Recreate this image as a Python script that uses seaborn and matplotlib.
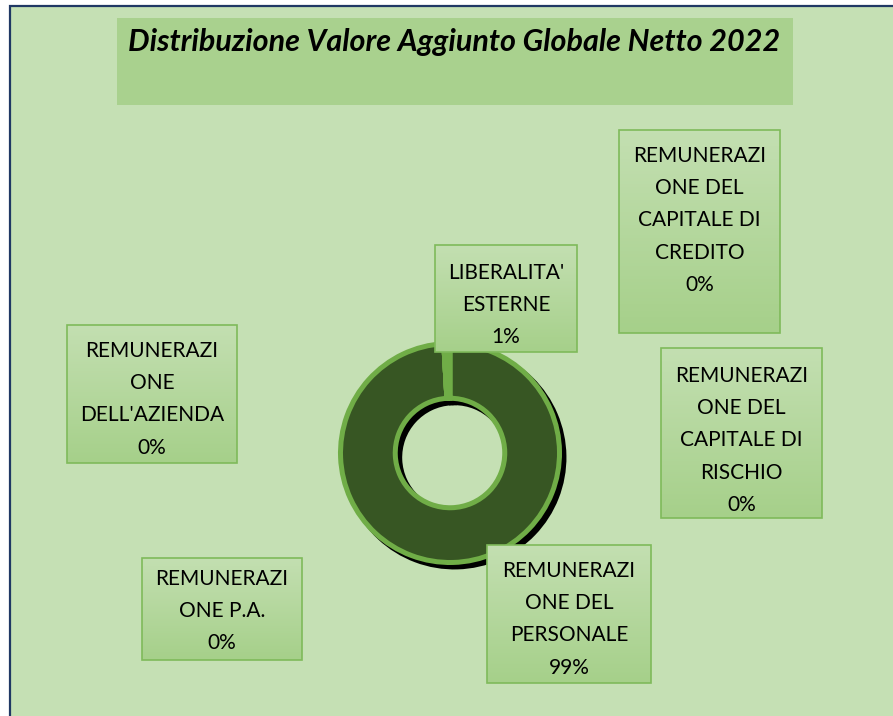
import numpy as np
import pandas as pd
import seaborn as sns
import matplotlib
matplotlib.use("Agg")
import matplotlib.pyplot as plt
from matplotlib.patches import Rectangle
from matplotlib.transforms import ScaledTranslation

sns.set_style("white")
plt.rcParams['font.family'] = ['Lato', 'DejaVu Sans']

# ---- data ----
categories = ["REMUNERAZIONE DEL PERSONALE", "REMUNERAZIONE P.A.",
              "REMUNERAZIONE DELL'AZIENDA", "REMUNERAZIONE DEL CAPITALE DI RISCHIO",
              "REMUNERAZIONE DEL CAPITALE DI CREDITO", "LIBERALITA' ESTERNE"]
values = [99.1, 0.0, 0.0, 0.0, 0.0, 0.9]
pct_labels = ["99%", "0%", "0%", "0%", "0%", "1%"]
label_lines = [["REMUNERAZI", "ONE DEL", "PERSONALE"],
               ["REMUNERAZI", "ONE P.A."],
               ["REMUNERAZI", "ONE", "DELL'AZIENDA"],
               ["REMUNERAZI", "ONE DEL", "CAPITALE DI", "RISCHIO"],
               ["REMUNERAZI", "ONE DEL", "CAPITALE DI", "CREDITO"],
               ["LIBERALITA'", "ESTERNE"]]
title = "Distribuzione Valore Aggiunto Globale Netto 2022"

df = pd.DataFrame({"categoria": categories, "valore": values})

# ---- layout (pixels) ----
W, H = 893, 716
fig = plt.figure(figsize=(W / 100, H / 100), dpi=100)
fig.patch.set_facecolor("white")

bg = fig.add_axes([0, 0, 1, 1])
bg.set_xlim(0, W)
bg.set_ylim(H, 0)
bg.axis("off")
bg.add_patch(Rectangle((9.5, 5.5), W, H, facecolor="#c5e0b4",
                       edgecolor="#203864", linewidth=1.6, zorder=0))

# title box
bg.add_patch(Rectangle((117, 18), 676, 87, facecolor="#a9d18e",
                       edgecolor="none", zorder=1))
bg.text(454.5, 51, title, ha="center", va="baseline", fontsize=22,
        fontweight="bold", fontstyle="italic", color="black", zorder=2)

# label boxes (x0, y0, x1, y1) and first text line, same order as categories
boxes = [(487, 545, 651, 683), (142, 558, 302, 660), (67, 325, 237, 463),
         (661, 348, 822, 518), (619, 130, 780, 333), (435, 245, 577, 352)]
first_line_y = [570, 578, 350, 375, 155, 272]
line_h = 32.2

# ---- donut ----
cx, cy, r = 450, 453, 109.5
pax = fig.add_axes([(cx - r) / W, (H - cy - r) / H, 2 * r / W, 2 * r / H])
pax.set_aspect("equal")
pax.axis("off")

shadow_off = ScaledTranslation(3.2 / 72, -3.2 / 72, fig.dpi_scale_trans)
sw, _ = pax.pie(df["valore"], startangle=90, counterclock=False, radius=1.0,
                colors=["black"] * len(df),
                wedgeprops=dict(width=0.5, edgecolor="black", linewidth=3.6))
for w in sw:
    w.set_transform(pax.transData + shadow_off)
    w.set_clip_on(False)
fill_colors = ["#375623"] * (len(df) - 1) + ["#70ad47"]
wedges, _ = pax.pie(df["valore"], startangle=90, counterclock=False, radius=1.0,
                    colors=fill_colors,
                    wedgeprops=dict(width=0.5, edgecolor="#70ad47", linewidth=3.6))
for w in wedges:
    w.set_clip_on(False)
pax.set_xlim(-1, 1)
pax.set_ylim(-1, 1)

# label boxes drawn on top
lab = fig.add_axes([0, 0, 1, 1])
lab.set_xlim(0, W)
lab.set_ylim(H, 0)
lab.axis("off")
lab.patch.set_alpha(0)
grad = np.linspace(0, 1, 64).reshape(-1, 1)
cmap = matplotlib.colors.LinearSegmentedColormap.from_list("g", ["#c3dfb1", "#a6d08a"])
for (x0, y0, x1, y1), lines, pct, fy in zip(boxes, label_lines, pct_labels, first_line_y):
    lab.imshow(grad, extent=(x0, x1, y1, y0), cmap=cmap, aspect="auto", zorder=3)
    lab.add_patch(Rectangle((x0, y0), x1 - x0, y1 - y0, facecolor="none",
                            edgecolor="#7fba5a", linewidth=1.2, zorder=4))
    for i, t in enumerate(lines + [pct]):
        lab.text((x0 + x1) / 2, fy + 1 + i * line_h, t, ha="center", va="center",
                 fontsize=15, color="black", zorder=5)
lab.set_xlim(0, W)
lab.set_ylim(H, 0)

fig.savefig("out.png", dpi=100, facecolor="white")
